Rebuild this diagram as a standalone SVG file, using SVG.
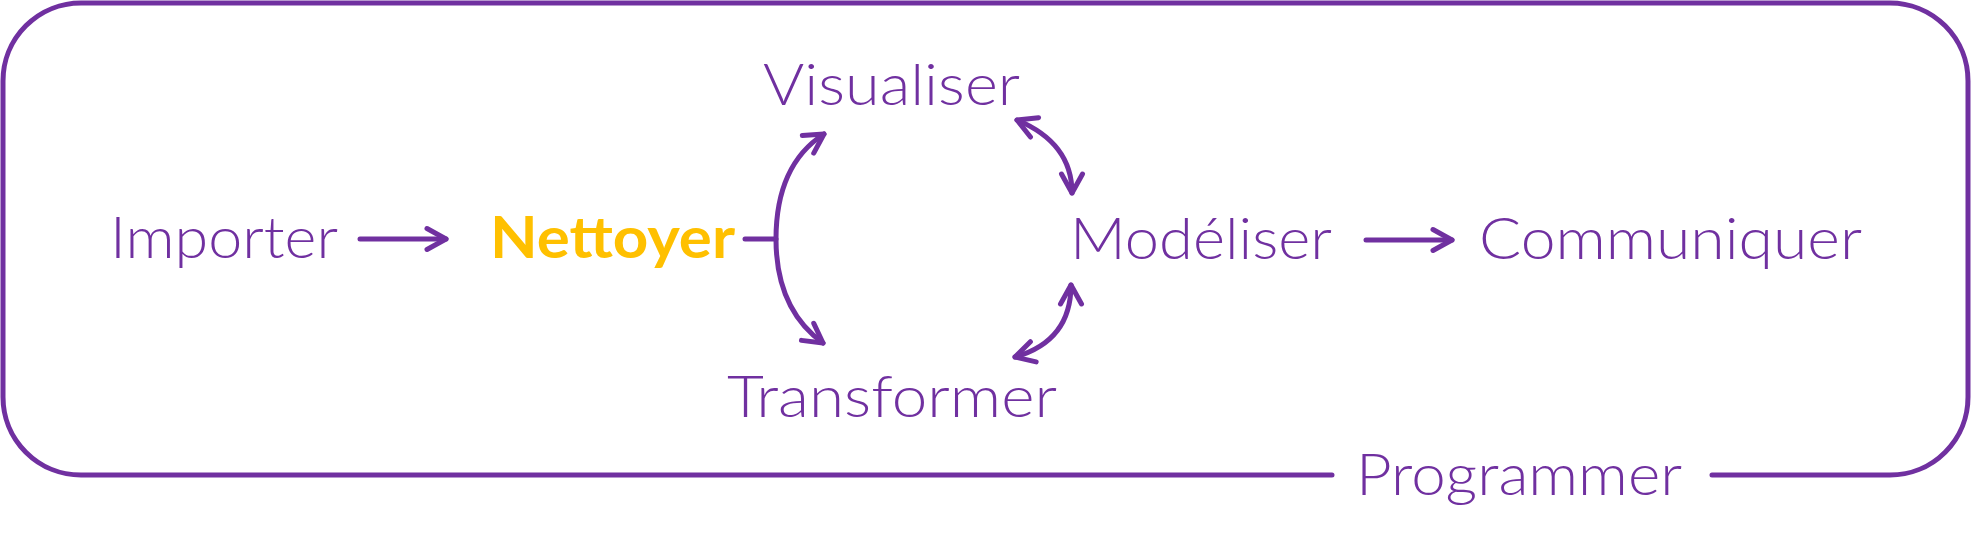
<svg xmlns="http://www.w3.org/2000/svg" width="1971" height="545" viewBox="0 0 1971 545">
<style>
.lbl{font-family:"Lato","Open Sans","Liberation Sans",sans-serif;font-weight:300;font-size:58px;fill:#7030A0}
.hl{font-family:"Lato","Open Sans","Liberation Sans",sans-serif;font-weight:700;font-size:58px;fill:#FFC000}
.ln{fill:none;stroke:#7030A0;stroke-width:5;stroke-linecap:round;stroke-linejoin:round}
</style>
<defs>
<marker id="chev" markerUnits="userSpaceOnUse" markerWidth="24" markerHeight="24" refX="20" refY="10.5" orient="auto-start-reverse" overflow="visible">
<path d="M1,0 L20,10.5 L1,21" fill="none" stroke="#7030A0" stroke-width="5" stroke-linecap="round" stroke-linejoin="round"/>
</marker>
</defs>
<g id="frame">
<path class="ln" stroke-linecap="butt" d="M1712,475 L1890,475 A78,78 0 0 0 1968,397 L1968,81 A78,78 0 0 0 1890,3 L81,3 A78,78 0 0 0 3,81 L3,397 A78,78 0 0 0 81,475 L1332,475"/>
</g>
<g id="connectors">
<path class="ln" d="M360,239 L446,239" marker-end="url(#chev)"/>
<path class="ln" d="M1366,240 L1452,240" marker-end="url(#chev)"/>
<path class="ln" stroke-linecap="butt" d="M745,239 L776,239"/>
<path class="ln" d="M824,134 Q776,165 776,239 Q776,309 823,343" marker-start="url(#chev)" marker-end="url(#chev)"/>
<path class="ln" d="M1017,120 Q1072,143 1072,193" marker-start="url(#chev)" marker-end="url(#chev)"/>
<path class="ln" d="M1071,285 Q1071,341 1015,357" marker-start="url(#chev)" marker-end="url(#chev)"/>
</g>
<g id="importer"><text class="lbl" x="110" y="258" textLength="228" lengthAdjust="spacingAndGlyphs">Importer</text></g>
<g id="nettoyer"><text class="hl" x="490" y="258" textLength="245" lengthAdjust="spacingAndGlyphs">Nettoyer</text></g>
<g id="visualiser"><text class="lbl" x="763" y="105" textLength="257" lengthAdjust="spacingAndGlyphs">Visualiser</text></g>
<g id="modeliser"><text class="lbl" x="1070" y="259" textLength="262" lengthAdjust="spacingAndGlyphs">Modéliser</text></g>
<g id="communiquer"><text class="lbl" x="1479" y="259" textLength="383" lengthAdjust="spacingAndGlyphs">Communiquer</text></g>
<g id="transformer"><text class="lbl" x="727" y="417" textLength="330" lengthAdjust="spacingAndGlyphs">Transformer</text></g>
<g id="programmer"><text class="lbl" x="1356" y="495" textLength="326" lengthAdjust="spacingAndGlyphs">Programmer</text></g>
</svg>
